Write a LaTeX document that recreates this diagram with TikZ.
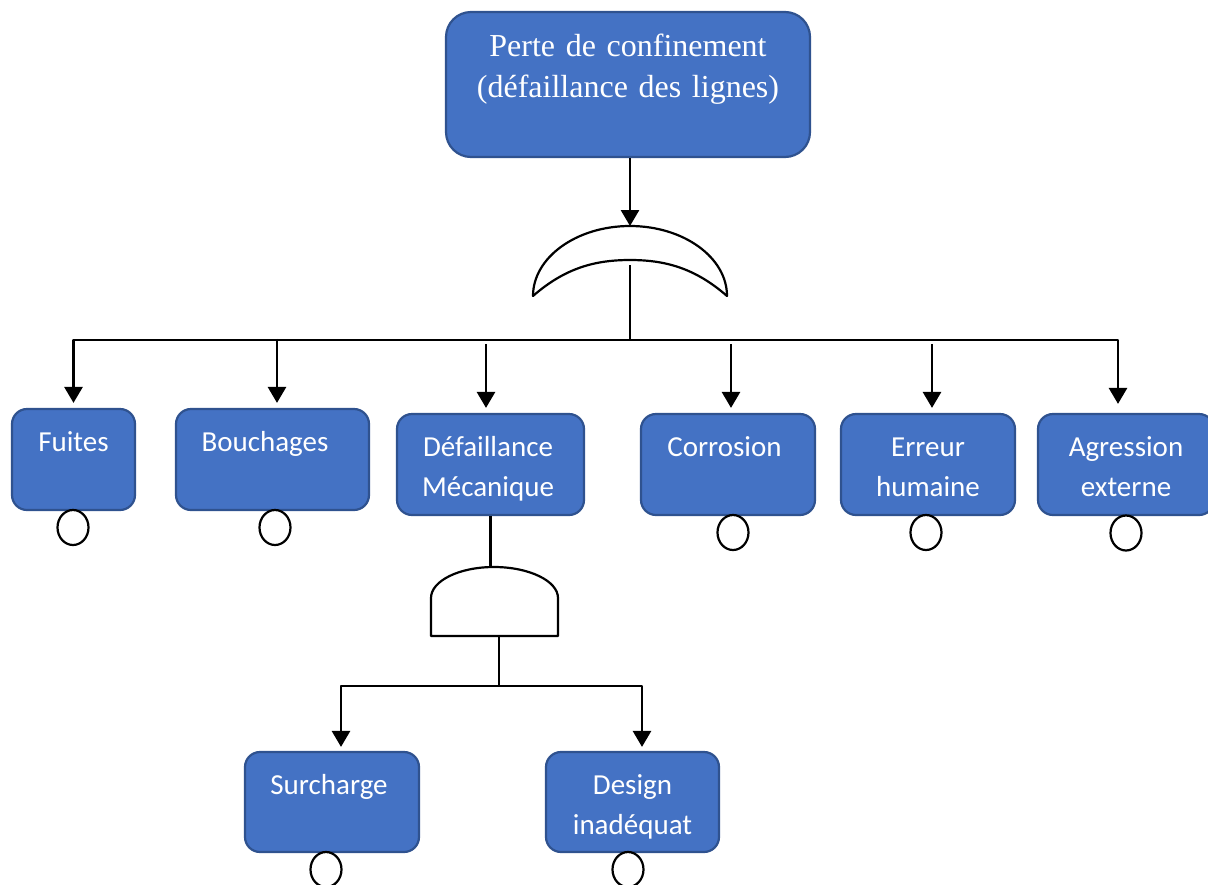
\documentclass[tikz,border=0pt]{standalone}
\usepackage{fontspec}
\setmainfont{Liberation Serif}
\newfontfamily\boxfont{Carlito}
\usetikzlibrary{arrows.meta,shapes.geometric,calc}
\definecolor{boxblue}{HTML}{4472C4}
\definecolor{boxedge}{HTML}{2F528F}
\tikzset{
  evbox/.style={rectangle, rounded corners=15pt, fill=boxblue, draw=boxedge,
    line width=2.2pt, inner sep=0pt, minimum height=101pt},
  lbl/.style={text=white, font=\boxfont\fontsize{29}{40}\selectfont, align=center,
    text width=200pt, anchor=base, inner sep=0pt},
  conn/.style={line width=2.8pt, line join=round},
  arr/.style={conn, -{Triangle[width=18pt,length=16pt]}, shorten >=5pt},
  gate/.style={line width=2.2pt, fill=white, line join=round},
  basic/.style={ellipse, draw, line width=2.2pt, fill=white, minimum width=31pt,
    minimum height=35pt, inner sep=0pt},
}
\begin{document}
\begin{tikzpicture}[x=1pt,y=-1pt]
\useasboundingbox (0,0) rectangle (1208,884);
\clip (0,0) rectangle (1208,884);

% top event
\node[evbox, rounded corners=25pt, minimum width=364pt, minimum height=145pt] (top) at (628,84.5) {};
\node[text=white, font=\fontsize{32}{41}\selectfont, align=center, text width=360pt,
  anchor=base, inner sep=0pt] (toptxt) at ($(top.north)+(0,46)$)
  {Perte de confinement\\(défaillance des lignes)};

% OR gate
\draw[gate] (533,296) .. controls (533,257.4) and (576.5,226) .. (630,226)
  .. controls (683.5,226) and (727,257.4) .. (727,296)
  .. controls (695,268) and (665,260) .. (630,260)
  .. controls (595,260) and (565,268) .. (533,296) -- cycle;
\coordinate (orin) at (630,226);
\coordinate (orout) at (630,265);

% first-level events
\node[evbox, minimum width=123pt] (fuites) at (73.5,459.5) {};
\node[evbox, minimum width=193pt] (bouch) at (272.5,459.5) {};
\node[evbox, minimum width=187pt] (defm) at (490.5,464.5) {};
\node[evbox, minimum width=174pt] (corr) at (728,464.5) {};
\node[evbox, minimum width=174pt] (erreur) at (928,464.5) {};
\node[evbox, minimum width=176pt] (agr) at (1126,464.5) {};

\node[lbl] (tfuites) at ($(fuites.north)+(0,44)$) {Fuites};
\node[lbl] (tbouch) at ($(bouch.north)+(-7.5,44)$) {Bouchages};
\begin{scope}
  \clip (defm.north west) rectangle ($(defm.south east)+(0,-15)$);
  \node[lbl] (tdefm) at ($(defm.north)+(-2.5,44)$) {Défaillance\\Mécanique};
\end{scope}
\node[lbl] (tcorr) at ($(corr.north)+(-3.5,44)$) {Corrosion};
\node[lbl] (terreur) at ($(erreur.north)+(0,44)$) {Erreur\\humaine};
\node[lbl] (tagr) at ($(agr.north)+(0,44)$) {Agression\\externe};

% basic event markers
\node[basic] (bfuites) at (73,527.5) {};
\node[basic] (bbouch) at (275,527.5) {};
\node[basic] (bcorr) at (733,532.5) {};
\node[basic] (berreur) at (926,532.5) {};
\node[basic] (bagr) at (1126,533) {};

% connectors of the OR gate
\coordinate (busL) at (73.5,340);
\coordinate (busR) at (1118,340);
\draw[arr, shorten >=0pt] (orin |- top.south) -- (orin);
\draw[arr] (orout) -- (orout |- busL) -- (busL) -- (fuites.north);
\draw[arr, shorten >=9pt] (orout |- busR) -- (busR) -- ($(agr.north)+(-8,0)$);
\draw[arr] ($(bouch.north)+(4.5,-69)$) -- ($(bouch.north)+(4.5,0)$);
\draw[arr, shorten <=5pt] ($(defm.north)+(-4.5,-74)$) -- ($(defm.north)+(-4.5,0)$);
\draw[arr, shorten <=5pt] ($(corr.north)+(3,-74)$) -- ($(corr.north)+(3,0)$);
\draw[arr, shorten <=5pt] ($(erreur.north)+(4,-74)$) -- ($(erreur.north)+(4,0)$);

% AND gate
\draw[gate] (431,598) .. controls (431,580.9) and (459,567) .. (494,567)
  .. controls (529,567) and (558,580.9) .. (558,598) -- (558,636) -- (431,636) -- cycle;
\coordinate (andin) at (490.5,567);
\coordinate (andout) at (499,636);
\draw[line width=2.2pt] (defm.south) -- (andin);

% second-level events
\node[evbox, minimum width=174pt, minimum height=100pt] (surch) at (332,802) {};
\node[evbox, minimum width=173pt, minimum height=100pt] (design) at (632.5,802) {};
\node[lbl] (tsurch) at ($(surch.north)+(-3,44)$) {Surcharge};
\begin{scope}
  \clip (design.north west) rectangle ($(design.south east)+(0,-15)$);
  \node[lbl] (tdesign) at ($(design.north)+(0,44)$) {Design\\inadéquat};
\end{scope}
\node[basic] (bsurch) at (326,869.5) {};
\node[basic] (bdesign) at (628,869.5) {};

% connectors of the AND gate
\coordinate (bbus) at (499,686);
\draw[line width=2.2pt] (andout) -- (bbus);
\draw[arr, shorten >=4pt] (bbus) -| ($(surch.north)+(9,0)$);
\draw[arr, shorten >=4pt] (bbus) -| ($(design.north)+(9.5,0)$);
\end{tikzpicture}
\end{document}
